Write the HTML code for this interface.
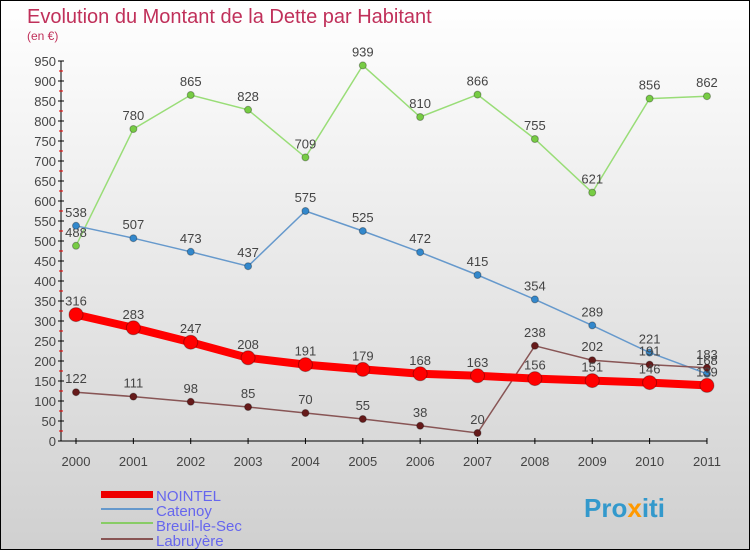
<!DOCTYPE html>
<html><head><meta charset="utf-8"><style>
body{margin:0}
#c{position:relative;width:748px;height:548px;border:1px solid #000;background:linear-gradient(#ffffff,#d0d0d0);overflow:hidden;font-family:"Liberation Sans",sans-serif}
svg text{font-family:"Liberation Sans",sans-serif}
</style></head><body>
<div id="c">
<svg id="s" width="748" height="548" xmlns="http://www.w3.org/2000/svg">
<text x="26" y="22" font-size="20" fill="#c0305a">Evolution du Montant de la Dette par Habitant</text>
<text x="26" y="39" font-size="12" fill="#c0305a">(en €)</text>
<g id="ax"></g><g id="plot"></g>
<g>
<rect x="100" y="490" width="52" height="7" fill="#ee0000"/>
<text x="155" y="500" font-size="15" fill="#6666ee">NOINTEL</text>
<rect x="100" y="507" width="52" height="2" fill="#6699cc"/>
<text x="155" y="515" font-size="15" fill="#6666ee">Catenoy</text>
<rect x="100" y="521" width="52" height="2" fill="#88cc66"/>
<text x="155" y="530" font-size="15" fill="#6666ee">Breuil-le-Sec</text>
<rect x="100" y="537" width="52" height="2" fill="#885555"/>
<text x="155" y="545" font-size="15" fill="#6666ee">Labruyère</text>
</g>
<text x="583" y="516" font-size="26" font-weight="bold" fill="#3399cc">Pro<tspan fill="#ff9900">x</tspan>iti</text>
</svg></div>
<script>
const years=[2000,2001,2002,2003,2004,2005,2006,2007,2008,2009,2010,2011];
const nointel=[316,283,247,208,191,179,168,163,156,151,146,139];
const catenoy=[538,507,473,437,575,525,472,415,354,289,221,168];
const breuil=[488,780,865,828,709,939,810,866,755,621,856,862];
const labruyere=[122,111,98,85,70,55,38,20,238,202,191,183];
const yTicks=[0,50,100,150,200,250,300,350,400,450,500,550,600,650,700,750,800,850,900,950];
const NS="http://www.w3.org/2000/svg";
const X=i=>75+i*57.36, Y=v=>440-v*0.4;
function mk(t,a,p){const e=document.createElementNS(NS,t);for(const k in a)e.setAttribute(k,a[k]);p.appendChild(e);return e;}
const ax=document.getElementById('ax'),plot=document.getElementById('plot');
mk('line',{x1:60,y1:60,x2:60,y2:440,stroke:'#000'},ax);
mk('line',{x1:60,y1:440,x2:706,y2:440,stroke:'#000'},ax);
yTicks.forEach((v,k)=>{
 mk('line',{x1:57,y1:Y(v),x2:63,y2:Y(v),stroke:'#000'},ax);
 if(k<yTicks.length-1) mk('line',{x1:58,y1:Y(v+25),x2:62,y2:Y(v+25),stroke:'#e00'},ax);
 const t=mk('text',{x:55,y:Y(v)+5,'font-size':13,'text-anchor':'end',fill:'#444'},ax);t.textContent=v;
 
 
});
years.forEach((y,i)=>{
 mk('line',{x1:X(i),y1:437,x2:X(i),y2:443,stroke:'#000'},ax);
 const t=mk('text',{x:X(i),y:465,'font-size':13,'text-anchor':'middle',fill:'#444'},ax);t.textContent=y;
 
 
});
function series(name,d,col,w,r,dot){
 const g=mk('g',{},plot);
 
 
 mk('polyline',{points:d.map((v,i)=>X(i)+','+Y(v)).join(' '),fill:'none',stroke:col,'stroke-width':w},g);
 d.forEach((v,i)=>{
  const c=mk('circle',{cx:X(i),cy:Y(v),r:r,fill:dot,stroke:'rgba(0,0,0,0.3)'},g);
  
  
  const t=mk('text',{x:X(i),y:Y(v)-9,'font-size':13,'text-anchor':'middle',fill:'#444'},g);t.textContent=v;
 });
}
series('breuil-le-sec',breuil,'#99dd77',1.5,3.5,'#77cc44');
series('catenoy',catenoy,'#6699cc',1.5,3.5,'#3388cc');
series('labruyere',labruyere,'#885555',1.5,3.5,'#661a1a');
series('nointel',nointel,'#ff0000',8,7,'#ff0000');
</script></body></html>
